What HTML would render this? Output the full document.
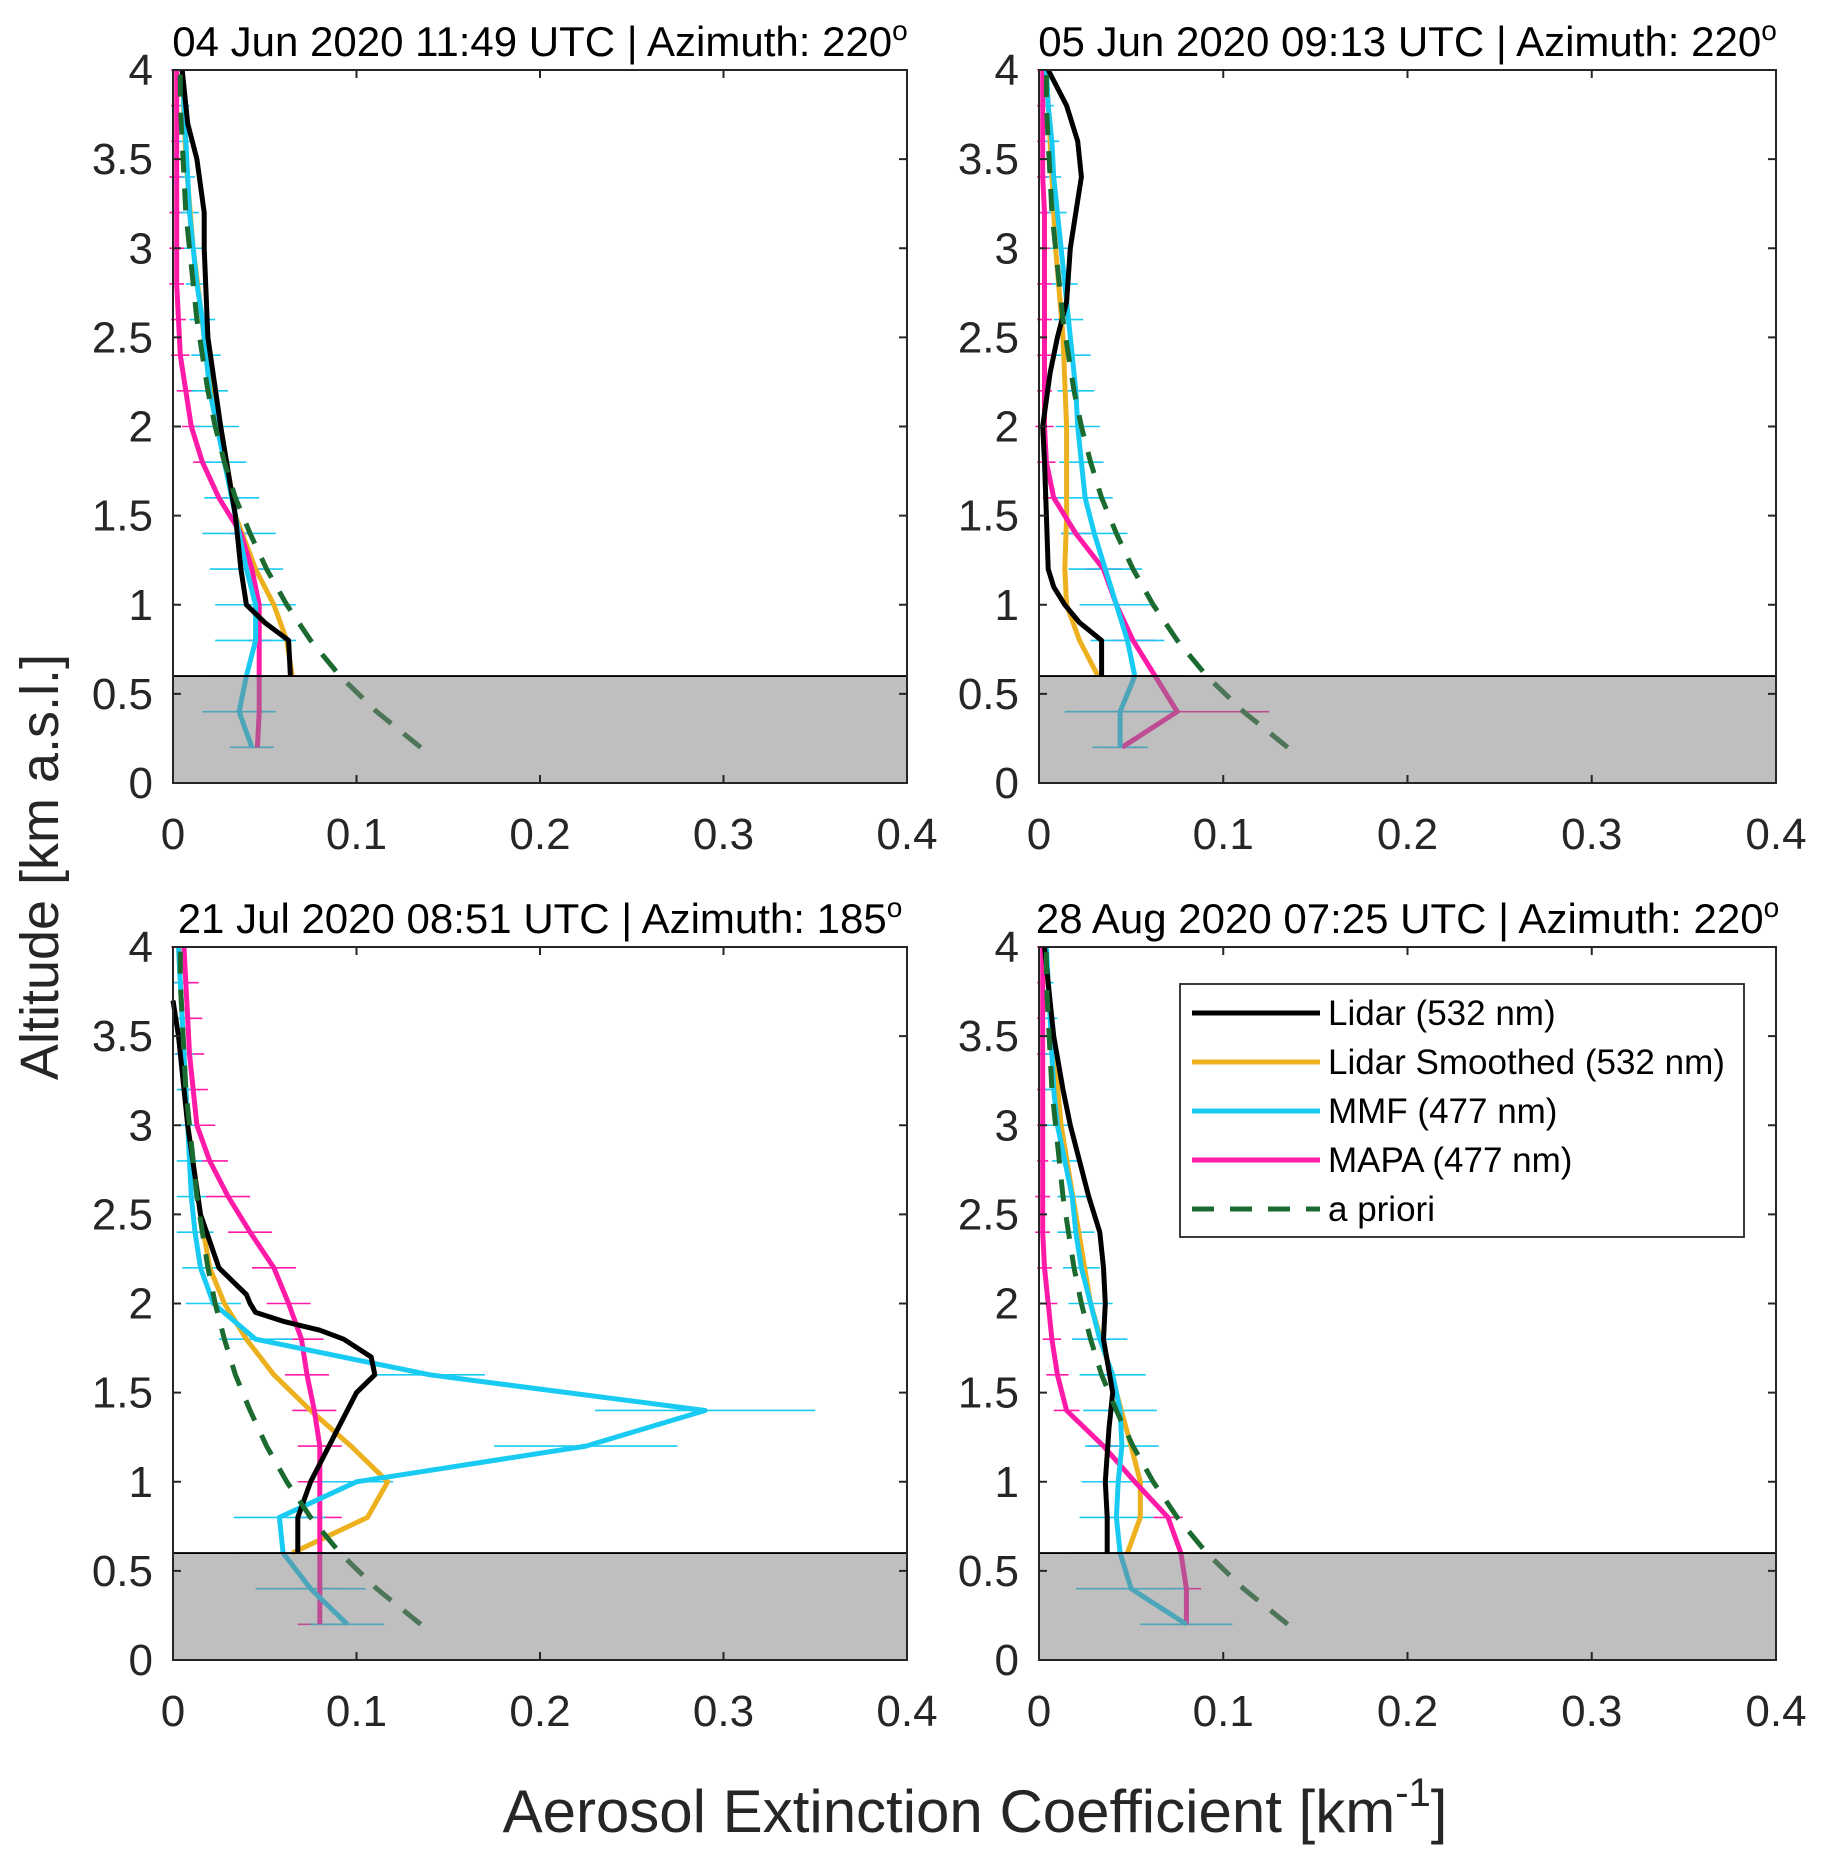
<!DOCTYPE html>
<html><head><meta charset="utf-8"><style>
html,body{margin:0;padding:0;background:#fff}
svg{display:block}
text{font-family:"Liberation Sans",Arial,sans-serif;fill:#262626}
</style></head><body>
<svg id="fig" width="1821" height="1857" viewBox="0 0 1821 1857" xmlns="http://www.w3.org/2000/svg"></svg>
<script>
// ---- data ----
const xTicks=[0,0.1,0.2,0.3,0.4];
const xTickLabels=["0","0.1","0.2","0.3","0.4"];
const yTicks=[0,0.5,1,1.5,2,2.5,3,3.5,4];
const yTickLabels=["0","0.5","1","1.5","2","2.5","3","3.5","4"];
const titles=["04 Jun 2020 11:49 UTC | Azimuth: 220","05 Jun 2020 09:13 UTC | Azimuth: 220","21 Jul 2020 08:51 UTC | Azimuth: 185","28 Aug 2020 07:25 UTC | Azimuth: 220"];
const retAlt=[0.2,0.4,0.6,0.8,1.0,1.2,1.4,1.6,1.8,2.0,2.2,2.4,2.6,2.8,3.0,3.2,3.4,3.6,3.8,4.0];
const apriori=[0.135,0.111,0.091,0.075,0.062,0.051,0.042,0.034,0.028,0.023,0.019,0.016,0.013,0.011,0.009,0.007,0.006,0.005,0.004,0.004];
// panel 1
const p1LidarAlt=[4.0,3.7,3.5,3.2,3.0,2.5,2.0,1.5,1.2,1.0,0.9,0.8,0.6];
const p1Lidar=[0.005,0.008,0.013,0.017,0.017,0.019,0.026,0.034,0.037,0.040,0.050,0.063,0.064];
const p1SmAlt=[4.0,3.5,3.0,2.5,2.0,1.5,1.2,1.0,0.8,0.6];
const p1Sm=[0.005,0.007,0.011,0.017,0.026,0.034,0.045,0.055,0.062,0.065];
const p1Mmf=[0.043,0.036,0.040,0.045,0.045,0.040,0.036,0.032,0.028,0.024,0.020,0.018,0.016,0.013,0.011,0.009,0.008,0.007,0.006,0.005];
const p1MmfErr=[0.012,0.02,0.022,0.022,0.022,0.02,0.02,0.015,0.012,0.012,0.01,0.008,0.007,0.006,0.005,0.005,0.004,0.004,0.003,0.003];
const p1Mapa=[0.046,0.047,0.047,0.047,0.047,0.043,0.037,0.025,0.016,0.010,0.007,0.004,0.003,0.002,0.002,0.002,0.002,0.002,0.002,0.002];
const p1MapaErr=[0.006,0.006,0.006,0.006,0.006,0.006,0.006,0.005,0.005,0.005,0.005,0.005,0.004,0.004,0.004,0.004,0.004,0.003,0.003,0.003];
// panel 2
const p2LidarAlt=[4.0,3.8,3.6,3.4,3.2,3.0,2.7,2.5,2.3,2.0,1.8,1.5,1.2,1.1,1.0,0.9,0.8,0.6];
const p2Lidar=[0.005,0.015,0.021,0.023,0.020,0.017,0.015,0.010,0.006,0.002,0.003,0.004,0.005,0.008,0.014,0.022,0.034,0.034];
const p2SmAlt=[4.0,3.0,2.5,2.0,1.5,1.2,1.0,0.8,0.6];
const p2Sm=[0.004,0.009,0.013,0.015,0.015,0.014,0.015,0.022,0.032];
const p2Mmf=[0.044,0.044,0.052,0.048,0.042,0.036,0.030,0.025,0.023,0.021,0.020,0.018,0.016,0.014,0.012,0.010,0.008,0.007,0.005,0.004];
const p2MmfErr=[0.015,0.03,0.025,0.02,0.02,0.02,0.018,0.015,0.012,0.012,0.01,0.01,0.008,0.007,0.006,0.005,0.004,0.004,0.003,0.003];
const p2Mapa=[0.045,0.075,0.063,0.051,0.042,0.035,0.020,0.008,0.004,0.003,0.003,0.003,0.003,0.003,0.003,0.003,0.002,0.002,0.002,0.002];
const p2MapaErr=[0.01,0.05,0.015,0.012,0.012,0.01,0.008,0.006,0.005,0.005,0.004,0.004,0.004,0.004,0.003,0.003,0.003,0.003,0.003,0.003];
// panel 3
const p3LidarAlt=[3.7,3.5,3.0,2.5,2.2,2.1,2.05,2.0,1.95,1.9,1.85,1.8,1.7,1.6,1.5,1.3,1.1,1.0,0.8,0.6];
const p3Lidar=[0.0,0.003,0.008,0.015,0.025,0.035,0.040,0.042,0.045,0.060,0.080,0.093,0.108,0.110,0.100,0.090,0.080,0.075,0.068,0.068];
const p3SmAlt=[4.0,3.0,2.5,2.2,2.0,1.8,1.6,1.4,1.2,1.0,0.8,0.6];
const p3Sm=[0.003,0.008,0.015,0.020,0.028,0.040,0.055,0.075,0.097,0.117,0.106,0.065];
const p3Mmf=[0.095,0.075,0.060,0.058,0.100,0.225,0.290,0.140,0.045,0.022,0.015,0.012,0.010,0.009,0.008,0.007,0.006,0.005,0.004,0.003];
const p3MmfErr=[0.02,0.03,0.025,0.025,0.02,0.05,0.06,0.03,0.02,0.015,0.01,0.01,0.008,0.007,0.006,0.005,0.005,0.004,0.004,0.003];
const p3Mapa=[0.080,0.080,0.080,0.080,0.080,0.080,0.077,0.073,0.070,0.063,0.055,0.042,0.030,0.020,0.013,0.011,0.009,0.008,0.007,0.006];
const p3MapaErr=[0.012,0.012,0.012,0.012,0.012,0.012,0.012,0.012,0.012,0.012,0.012,0.012,0.012,0.01,0.01,0.008,0.008,0.008,0.007,0.007];
// panel 4
const p4LidarAlt=[4.0,3.5,3.2,3.0,2.8,2.6,2.4,2.2,2.0,1.8,1.5,1.3,1.0,0.8,0.6];
const p4Lidar=[0.003,0.008,0.013,0.017,0.022,0.027,0.033,0.035,0.036,0.035,0.040,0.038,0.036,0.037,0.037];
const p4SmAlt=[4.0,3.0,2.5,2.0,1.5,1.2,1.0,0.8,0.6];
const p4Sm=[0.003,0.012,0.020,0.028,0.042,0.050,0.055,0.055,0.048];
const p4Mmf=[0.080,0.050,0.044,0.042,0.043,0.045,0.044,0.040,0.033,0.028,0.023,0.020,0.018,0.014,0.010,0.008,0.007,0.006,0.005,0.004];
const p4MmfErr=[0.025,0.03,0.028,0.02,0.02,0.02,0.02,0.018,0.015,0.012,0.01,0.01,0.008,0.007,0.006,0.005,0.004,0.004,0.003,0.003];
const p4Mapa=[0.080,0.080,0.077,0.070,0.052,0.035,0.015,0.010,0.007,0.005,0.003,0.002,0.002,0.002,0.002,0.002,0.002,0.002,0.002,0.002];
const p4MapaErr=[0.008,0.008,0.008,0.008,0.008,0.008,0.007,0.006,0.005,0.005,0.004,0.004,0.004,0.003,0.003,0.003,0.003,0.003,0.003,0.003];
const surfaceTop=0.6;

const panels=[
 {x0:173,x1:907,y0:70,y1:783,d:[p1LidarAlt,p1Lidar,p1SmAlt,p1Sm,p1Mmf,p1MmfErr,p1Mapa,p1MapaErr]},
 {x0:1039,x1:1776,y0:70,y1:783,d:[p2LidarAlt,p2Lidar,p2SmAlt,p2Sm,p2Mmf,p2MmfErr,p2Mapa,p2MapaErr]},
 {x0:173,x1:907,y0:947,y1:1660,d:[p3LidarAlt,p3Lidar,p3SmAlt,p3Sm,p3Mmf,p3MmfErr,p3Mapa,p3MapaErr]},
 {x0:1039,x1:1776,y0:947,y1:1660,d:[p4LidarAlt,p4Lidar,p4SmAlt,p4Sm,p4Mmf,p4MmfErr,p4Mapa,p4MapaErr]}
];
const C={lidar:"#000000",sm:"#EDB120",mmf:"#19CBF2",mapa:"#FF1AA8",ap:"#1B6A30"};
const NS="http://www.w3.org/2000/svg";
const svg=document.getElementById('fig');
function mk(tag,attrs,parent){const e=document.createElementNS(NS,tag);for(const k in attrs)e.setAttribute(k,attrs[k]);(parent||svg).appendChild(e);return e;}

panels.forEach((p,i)=>{
  const g=mk('g',{});
  
  
  const sx=v=>p.x0+(v-0)/(0.4-0)*(p.x1-p.x0);
  const sy=v=>p.y1-(v-0)/(4-0)*(p.y1-p.y0);
  const line=(xs,ys,col,name,dash)=>{
    const pts=xs.map((a,k)=>sx(ys[k]).toFixed(1)+','+sy(a).toFixed(1)).join(' ');
    const el=mk('polyline',{points:pts,fill:'none',stroke:col,'stroke-width':5,'stroke-linejoin':'round'},g);
    if(dash)el.setAttribute('stroke-dasharray',dash);
    
    
  };
  const errs=(vals,err,col,name)=>{
    vals.forEach((v,k)=>{
      const el=mk('line',{x1:sx(v-err[k]),x2:sx(v+err[k]),y1:sy(retAlt[k]),y2:sy(retAlt[k]),stroke:col,'stroke-width':1.6},g);
      
      
    });
  };
  const [la,lv,sa,sv,mm,mme,mp,mpe]=p.d;
  errs(mp,mpe,C.mapa,'mapa-error-bar');
  errs(mm,mme,C.mmf,'mmf-error-bar');
  line(sa,sv,C.sm,'lidar-smoothed-line');
  line(retAlt,mp,C.mapa,'mapa-line');
  line(retAlt,mm,C.mmf,'mmf-line');
  line(la,lv,C.lidar,'lidar-line');
  line(retAlt,apriori,C.ap,'apriori-line','22 16');
  const r=mk('rect',{x:p.x0,y:sy(surfaceTop),width:p.x1-p.x0,height:p.y1-sy(surfaceTop),fill:'#808080','fill-opacity':0.5},g);
  
  
  mk('line',{x1:p.x0,x2:p.x1,y1:sy(surfaceTop),y2:sy(surfaceTop),stroke:'#000','stroke-width':1.8},g);
  const b=mk('rect',{x:p.x0,y:p.y0,width:p.x1-p.x0,height:p.y1-p.y0,fill:'none',stroke:'#262626','stroke-width':2},g);
  
  
  xTicks.forEach((t,k)=>{
    const X=sx(t);
    mk('line',{x1:X,x2:X,y1:p.y1,y2:p.y1-8,stroke:'#262626','stroke-width':2},g);
    mk('line',{x1:X,x2:X,y1:p.y0,y2:p.y0+8,stroke:'#262626','stroke-width':2},g);
    const tx=mk('text',{x:X,y:p.y1+66,'font-size':44,'text-anchor':'middle'},g);
    tx.textContent=xTickLabels[k];
    
    
  });
  yTicks.forEach((t,k)=>{
    const Y=sy(t);
    mk('line',{x1:p.x0,x2:p.x0+8,y1:Y,y2:Y,stroke:'#262626','stroke-width':2},g);
    mk('line',{x1:p.x1,x2:p.x1-8,y1:Y,y2:Y,stroke:'#262626','stroke-width':2},g);
    const ty=mk('text',{x:p.x0-20,y:Y+15,'font-size':44,'text-anchor':'end'},g);
    ty.textContent=yTickLabels[k];
    
    
  });
  const tt=mk('text',{x:(p.x0+p.x1)/2,y:p.y0-14,'font-size':42,'text-anchor':'middle',style:'fill:#000'},g);
  tt.textContent=titles[i];
  const sup=mk('tspan',{dy:-16,'font-size':28},tt);
  sup.textContent='o';
  
  
});

const lg=mk('g',{});


mk('rect',{x:1180,y:984,width:564,height:253,fill:'#fff',stroke:'#262626','stroke-width':1.8},lg);
const legLabels=["Lidar (532 nm)","Lidar Smoothed (532 nm)","MMF (477 nm)","MAPA (477 nm)","a priori"];
const legCols=[C.lidar,C.sm,C.mmf,C.mapa,C.ap];
legLabels.forEach((s,k)=>{
  const y=1013+k*49;
  const ln=mk('line',{x1:1192,x2:1320,y1:y,y2:y,stroke:legCols[k],'stroke-width':5},lg);
  if(k===4)ln.setAttribute('stroke-dasharray','22 16');
  const t=mk('text',{x:1328,y:y+12,'font-size':35,style:'fill:#000'},lg);
  t.textContent=s;
  
  
});

const yl=mk('text',{x:0,y:0,'font-size':54,'text-anchor':'middle',transform:'translate(58,867) rotate(-90)'});
yl.textContent='Altitude [km a.s.l.]';


const xl=mk('text',{x:975,y:1832,'font-size':60,'text-anchor':'middle'});
xl.textContent='Aerosol Extinction Coefficient [km';
const xs=mk('tspan',{dy:-26,'font-size':40},xl); xs.textContent='-1';
const xe=mk('tspan',{dy:26},xl); xe.textContent=']';


</script>
</body></html>
